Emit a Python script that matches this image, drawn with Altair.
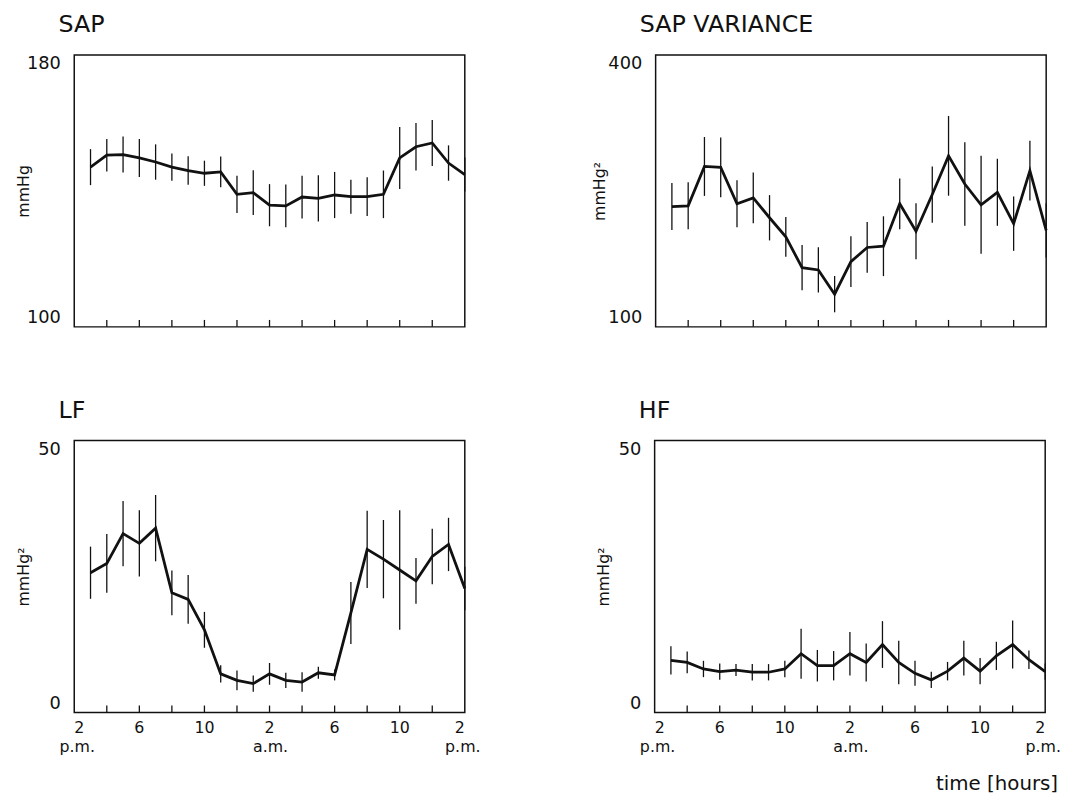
import altair as alt
import pandas as pd

INK = "#111111"
FONT = "DejaVu Sans"

# hours of the clock, 15 = 3 p.m. ... 38 = 2 p.m. next day
HOURS = [15, 16, 17, 18, 19, 20, 21, 22, 23, 24, 25, 26,
         27, 28, 29, 30, 31, 32, 33, 34, 35, 36, 37, 38]
TICK_HOURS = [16, 18, 20, 22, 24, 26, 28, 30, 32, 34, 36]
LABEL_HOURS = [14, 18, 22, 26, 30, 34, 38]
LABEL_TEXT = ["2", "6", "10", "2", "6", "10", "2"]
PERIOD_HOURS = [14, 26, 38]
PERIOD_TEXT = ["p.m.", "a.m.", "p.m."]

SAP_MEAN = [147.0, 150.5, 150.7, 149.7, 148.5, 147.0, 146.0, 145.2, 145.6, 139.0, 139.5, 135.8,
            135.6, 138.2, 137.8, 138.8, 138.3, 138.3, 139.0, 149.7, 153.0, 154.1, 148.2, 144.8]
SAP_ERR = [5.3, 4.8, 5.3, 5.6, 5.2, 4.0, 4.2, 3.7, 4.5, 5.5, 6.6, 6.2,
           6.3, 6.3, 6.8, 6.8, 5.0, 5.7, 7.0, 9.1, 7.0, 6.8, 5.2, 5.0]

VAR_MEAN = [232.8, 233.6, 277.0, 275.9, 235.8, 242.3, 220.4, 199.3, 165.3, 162.8, 136.1, 171.9,
            187.6, 189.0, 235.8, 205.5, 246.0, 288.7, 257.6, 234.7, 248.5, 213.9, 272.3, 206.5]
VAR_ERR = [26, 26, 32.5, 33, 26, 28, 25, 22, 25, 25, 20, 28,
           28, 33, 28, 31, 31, 44, 46, 54, 37, 30, 33, 30]

LF_MEAN = [25.7, 27.4, 32.9, 31.1, 33.9, 22.0, 20.8, 15.2, 7.1, 5.9, 5.3, 7.1,
           5.9, 5.6, 7.3, 6.9, 18.3, 30.0, 28.2, 26.2, 24.2, 28.7, 30.9, 22.8]
LF_ERR = [4.8, 5.4, 6.0, 6.1, 6.1, 4.1, 4.5, 3.3, 1.6, 1.8, 1.5, 2.0,
          1.4, 1.8, 1.1, 1.0, 5.7, 7.1, 7.2, 11.0, 4.2, 5.1, 4.9, 4.0]

HF_MEAN = [9.6, 9.2, 8.0, 7.5, 7.8, 7.4, 7.4, 8.0, 10.8, 8.6, 8.6, 10.8,
           9.2, 12.5, 9.2, 7.2, 6.0, 7.6, 10.0, 7.6, 10.4, 12.5, 9.7, 7.5]
HF_ERR = [2.6, 2.0, 1.5, 1.5, 1.1, 1.5, 1.5, 1.5, 4.6, 2.9, 2.7, 4.0,
          3.5, 4.3, 4.0, 2.3, 1.5, 1.7, 3.2, 2.4, 2.6, 4.4, 1.7, 1.5]

W = 395
H = 275


def panel(title, mean, err, lo, hi, ytitle, title_x, bottom=False, xlabel=None):
    df = pd.DataFrame({"hour": HOURS, "mean": mean, "err": err})
    df["lo"] = df["mean"] - df["err"]
    df["hi"] = df["mean"] + df["err"]

    x = alt.X("hour:Q", scale=alt.Scale(domain=[14, 38], nice=False, zero=False), axis=None)
    yscale = alt.Scale(domain=[lo, hi], nice=False, zero=False)
    yaxis = alt.Axis(values=[lo, hi], labelFlush=True, ticks=False, domain=False, grid=False,
                     labelFont=FONT, labelFontSize=18, labelColor=INK, labelPadding=14,
                     title=ytitle, titleFont=FONT, titleFontSize=16, titleFontWeight="normal",
                     titleColor=INK, titleX=title_x)

    line = alt.Chart(df).mark_line(color=INK, strokeWidth=2.8).encode(
        x=x, y=alt.Y("mean:Q", scale=yscale, axis=yaxis, title=ytitle))
    bars = alt.Chart(df).mark_rule(color=INK, strokeWidth=1.3).encode(
        x=x, y=alt.Y("lo:Q", scale=yscale, axis=yaxis, title=ytitle), y2="hi:Q")
    ticks = alt.Chart(pd.DataFrame({"hour": TICK_HOURS})).mark_rule(
        color=INK, strokeWidth=1.3).encode(x=x, y=alt.value(H - 7), y2=alt.value(H))

    layers = [bars, line, ticks]

    if bottom:
        lab = pd.DataFrame({"hour": LABEL_HOURS, "txt": LABEL_TEXT})
        groups = [(lab.iloc[:1], "left"), (lab.iloc[1:-1], "center"), (lab.iloc[-1:], "right")]
        for sub, al in groups:
            layers.append(alt.Chart(sub).mark_text(
                font=FONT, fontSize=16, color=INK, align=al, baseline="alphabetic").encode(
                x=x, y=alt.value(H + 21), text="txt:N"))
        per = pd.DataFrame({"hour": PERIOD_HOURS, "txt": PERIOD_TEXT})
        for i, dx in enumerate([3, 1, -2]):
            layers.append(alt.Chart(per.iloc[i:i + 1]).mark_text(
                font=FONT, fontSize=16, color=INK, align="center", baseline="alphabetic", dx=dx).encode(
                x=x, y=alt.value(H + 40), text="txt:N"))
        if xlabel:
            layers.append(alt.Chart(pd.DataFrame({"txt": [xlabel]})).mark_text(
                font=FONT, fontSize=20, color=INK, align="right", baseline="alphabetic").encode(
                x=alt.value(W + 13), y=alt.value(H + 78), text="txt:N"))

    return alt.layer(*layers).properties(
        width=W, height=H,
        title=alt.TitleParams(text=title, anchor="start", frame="group", dx=-16, offset=-1,
                              baseline="alphabetic", font=FONT, fontSize=24,
                              fontWeight="normal", color=INK))


p1 = panel("SAP", SAP_MEAN, SAP_ERR, 100, 180, "mmHg", -43)
p2 = panel("SAP VARIANCE", VAR_MEAN, VAR_ERR, 100, 400, "mmHg²", -49)
p3 = panel("LF", LF_MEAN, LF_ERR, 0, 50, "mmHg²", -43, bottom=True)
p4 = panel("HF", HF_MEAN, HF_ERR, 0, 50, "mmHg²", -44, bottom=True, xlabel="time [hours]")

chart = alt.vconcat(
    alt.hconcat(p1, p2, spacing=120),
    alt.hconcat(p3, p4, spacing=114),
    spacing=70,
).properties(
    padding={"left": 7, "top": 0, "right": 0, "bottom": 0},
    background="white",
).configure_view(stroke=INK, strokeWidth=1.5)

chart.save("out.html", embed_options={"renderer": "svg", "actions": False})
